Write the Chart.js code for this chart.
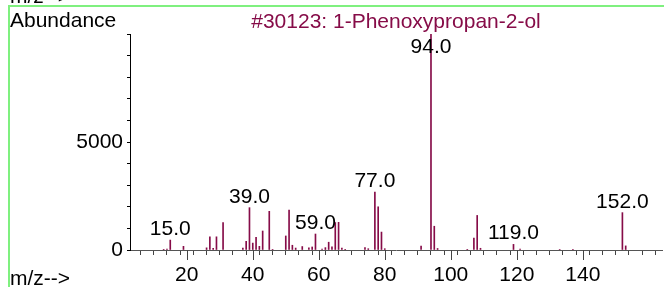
<!DOCTYPE html>
<html>
<head>
<meta charset="utf-8">
<script src="https://cdn.jsdelivr.net/npm/chart.js@4"></script>
<style>
  html, body { margin: 0; padding: 0; background: #fff; }
  #wrap { width: 664px; height: 287px; position: relative; }
</style>
</head>
<body>
<div id="wrap"><canvas id="spectrum" width="664" height="287"></canvas></div>
<script>
// --- DATA ---
const mz = [13, 14, 15, 19, 26, 27, 28, 29, 31, 37, 38, 39, 40, 41, 42, 43, 45, 46,
            50, 51, 52, 53, 55, 57, 58, 59, 61, 62, 63, 64, 65, 66, 67, 68,
            74, 75, 77, 78, 79, 80, 91, 94, 95, 96, 105, 107, 108, 109,
            119, 121, 133, 137, 152, 153];
const abundance = [30, 40, 460, 170, 100, 610, 80, 610, 1270, 90, 400, 1960, 320, 590, 170, 880, 1790, 30,
                   650, 1850, 220, 90, 160, 100, 140, 740, 40, 110, 360, 150, 1270, 1280, 90, 30,
                   110, 60, 2680, 2000, 830, 60, 180, 10000, 1100, 70, 30, 550, 1600, 80,
                   260, 40, 20, 20, 1730, 190];
const labeledPeaks = [15, 39, 59, 77, 94, 119, 152];
const xTicks = [4, 8, 12, 16, 20, 24, 28, 32, 36, 40, 44, 48, 52, 56, 60, 64, 68, 72, 76, 80,
                84, 88, 92, 96, 100, 104, 108, 112, 116, 120, 124, 128, 132, 136, 140,
                144, 148, 152, 156, 160];
const xTickLabels = [20, 40, 60, 80, 100, 120, 140];
const yTickLabels = [0, 5000];

const TITLE = '#30123: 1-Phenoxypropan-2-ol';
const BAR_COLOR = '#860c48';
const FONT = "'Liberation Sans', Arial, sans-serif";

// Text, frame and the longer ticks at every 20
const decorations = {
    id: 'decorations',
    beforeDraw(chart) {
        const ctx = chart.ctx;
        ctx.save();
        ctx.fillStyle = '#7ff07f';
        ctx.fillRect(8, 5, 656, 2);
        ctx.fillRect(8, 5, 2, 282);
        ctx.restore();
    },
    afterDraw(chart) {
        const ctx = chart.ctx;
        const x = chart.scales.x, y = chart.scales.y;
        const area = chart.chartArea;
        ctx.save();
        ctx.font = '21px ' + FONT;
        ctx.textBaseline = 'alphabetic';

        ctx.fillStyle = '#000';
        ctx.textAlign = 'left';
        ctx.fillText('m/z-->', 10, 3);
        ctx.fillText('Abundance', 10, 26.5);
        ctx.fillText('m/z-->', 10, 285);

        ctx.fillStyle = BAR_COLOR;
        ctx.textAlign = 'center';
        ctx.fillText(TITLE, (area.left + area.right) / 2, 28);

        // major ticks
        ctx.strokeStyle = '#444';
        ctx.lineWidth = 1;
        xTickLabels.forEach(v => {
            const px = Math.round(x.getPixelForValue(v)) + 0.5;
            ctx.beginPath();
            ctx.moveTo(px, area.bottom);
            ctx.lineTo(px, area.bottom + 10);
            ctx.stroke();
        });

        // peak labels
        ctx.fillStyle = '#000';
        labeledPeaks.forEach(m => {
            const i = mz.indexOf(m);
            const px = x.getPixelForValue(m);
            const py = Math.max(y.getPixelForValue(abundance[i]) - 5, area.top + 19);
            ctx.fillText(m.toFixed(1), px, py);
        });
        ctx.restore();
    }
};

new Chart(document.getElementById('spectrum'), {
    type: 'bar',
    data: {
        datasets: [{
            data: mz.map((m, i) => ({ x: m, y: abundance[i] })),
            backgroundColor: BAR_COLOR,
            borderWidth: 0,
            barThickness: 1
        }]
    },
    options: {
        responsive: false,
        animation: false,
        events: [],
        layout: { padding: { top: 34, right: 2, left: 0, bottom: 0 } },
        plugins: {
            legend: { display: false },
            title: { display: false },
            tooltip: { enabled: false }
        },
        scales: {
            x: {
                type: 'linear',
                min: 2.8,
                max: 164,
                offset: false,
                afterFit(scale) { scale.height = 37; },
                afterBuildTicks(scale) { scale.ticks = xTicks.map(v => ({ value: v })); },
                grid: { drawOnChartArea: false, drawTicks: true, tickLength: 5, color: '#444' },
                border: { color: '#555', width: 1 },
                ticks: {
                    autoSkip: false,
                    maxRotation: 0,
                    padding: 8,
                    color: '#000',
                    font: { size: 21, family: FONT },
                    callback: v => xTickLabels.includes(v) ? String(v) : ''
                }
            },
            y: {
                min: 0,
                max: 10000,
                afterFit(scale) { scale.width = 130; },
                grid: { drawOnChartArea: false, drawTicks: true, tickLength: 3, color: '#000' },
                border: { color: '#000', width: 1 },
                ticks: {
                    stepSize: 1000,
                    autoSkip: false,
                    padding: 4,
                    color: '#000',
                    font: { size: 21, family: FONT },
                    callback: v => yTickLabels.includes(v) ? String(v) : ''
                }
            }
        }
    },
    plugins: [decorations]
});
</script>
</body>
</html>
